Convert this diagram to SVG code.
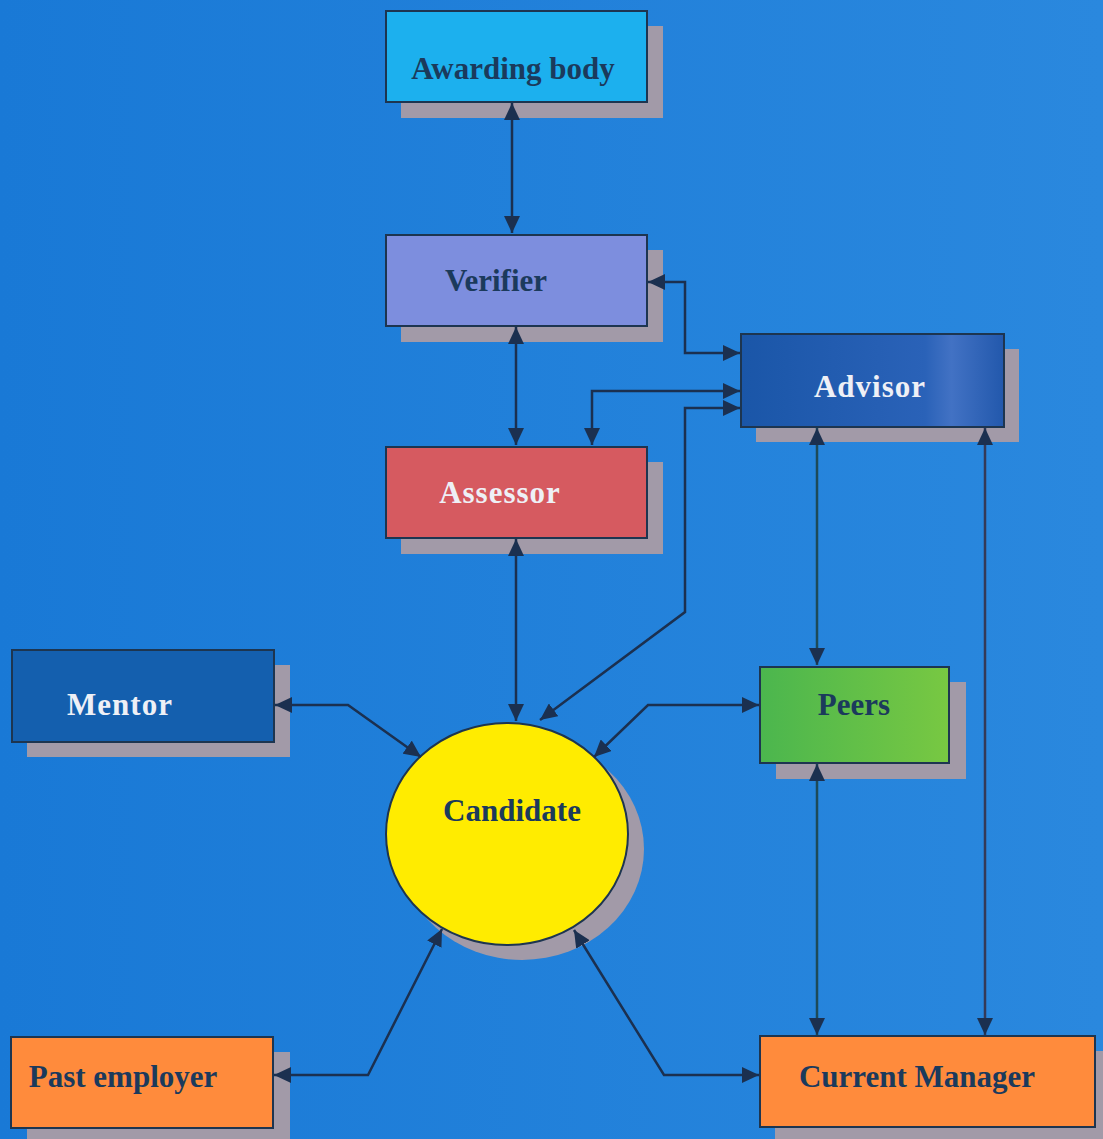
<svg xmlns="http://www.w3.org/2000/svg" width="1103" height="1139" viewBox="0 0 1103 1139">
<style>
.node{stroke:#1d3550;stroke-width:2}
.sh{fill:#a29aa8}
.lbl{font-family:"Liberation Serif","Times New Roman",serif;font-weight:bold;font-size:31px;text-anchor:middle}
.dk{fill:#1b3a5c}
.lt{fill:#eef0f6}
.con{fill:none;stroke:#1b3050;stroke-width:2.5;marker-start:url(#ah);marker-end:url(#ah)}
</style>
<defs>
<marker id="ah" markerUnits="userSpaceOnUse" markerWidth="18" markerHeight="16" refX="17" refY="8" orient="auto-start-reverse">
<path d="M0,0 L17,8 L0,16 z" fill="#1b3050"/>
</marker>
<linearGradient id="bg" x1="0" y1="0" x2="1" y2="0">
<stop offset="0" stop-color="#1979d6"/>
<stop offset="1" stop-color="#2a88de"/>
</linearGradient>
<linearGradient id="adv" x1="0" y1="0" x2="1" y2="0">
<stop offset="0" stop-color="#1a56a8"/>
<stop offset="0.7" stop-color="#2a62b8"/>
<stop offset="0.8" stop-color="#4272c4"/>
<stop offset="1" stop-color="#2258ac"/>
</linearGradient>
<linearGradient id="peer" x1="0" y1="0" x2="1" y2="0">
<stop offset="0" stop-color="#4bb64e"/>
<stop offset="1" stop-color="#78c842"/>
</linearGradient>
</defs>
<rect width="1103" height="1139" fill="url(#bg)"/>

<g id="awarding-body">
<rect class="sh" x="401" y="26" width="262" height="92"/>
<rect class="node" x="386" y="11" width="261" height="91" fill="#1cb0ee"/>
<text class="lbl dk" x="513" y="79">Awarding body</text>
</g>
<g id="verifier">
<rect class="sh" x="401" y="250" width="262" height="92"/>
<rect class="node" x="386" y="235" width="261" height="91" fill="#7d8ede"/>
<text class="lbl dk" x="496" y="291">Verifier</text>
</g>
<g id="advisor">
<rect class="sh" x="756" y="349" width="263" height="93"/>
<rect class="node" x="741" y="334" width="263" height="93" fill="url(#adv)"/>
<text class="lbl lt" x="870" y="397" letter-spacing="1">Advisor</text>
</g>
<g id="assessor">
<rect class="sh" x="401" y="462" width="262" height="92"/>
<rect class="node" x="386" y="447" width="261" height="91" fill="#d65a60"/>
<text class="lbl lt" x="500" y="503" letter-spacing="1">Assessor</text>
</g>
<g id="mentor">
<rect class="sh" x="27" y="665" width="263" height="92"/>
<rect class="node" x="12" y="650" width="262" height="92" fill="#145fae"/>
<text class="lbl lt" x="120" y="715" letter-spacing="1">Mentor</text>
</g>
<g id="peers">
<rect class="sh" x="776" y="682" width="190" height="97"/>
<rect class="node" x="760" y="667" width="189" height="96" fill="url(#peer)"/>
<text class="lbl dk" x="854" y="715">Peers</text>
</g>
<g id="candidate">
<ellipse class="sh" cx="522" cy="849" rx="122" ry="111"/>
<ellipse class="node" cx="507" cy="834" rx="121" ry="111" fill="#ffec00"/>
<text class="lbl dk" x="512" y="821">Candidate</text>
</g>
<g id="past-employer">
<rect class="sh" x="27" y="1052" width="263" height="92"/>
<rect class="node" x="11" y="1037" width="262" height="91" fill="#ff8b3c"/>
<text class="lbl dk" x="123" y="1087">Past employer</text>
</g>
<g id="current-manager">
<rect class="sh" x="775" y="1051" width="335" height="92"/>
<rect class="node" x="760" y="1036" width="335" height="91" fill="#ff8b3c"/>
<text class="lbl dk" x="917" y="1087">Current Manager</text>
</g>

<g id="connectors">
<path class="con" d="M512,103 L512,233"/>
<path class="con" d="M516,327 L516,445"/>
<path class="con" d="M648,282 L685,282 L685,353 L740,353"/>
<path class="con" d="M592,445 L592,391 L740,391"/>
<path class="con" d="M740,408 L685,408 L685,612 L540,720"/>
<path class="con" d="M516,539 L516,721"/>
<path class="con" d="M275,705 L348,705 L421,757"/>
<path class="con" d="M759,705 L648,705 L594,757"/>
<path class="con" d="M817,428 L817,665" style="stroke:#1d4a58"/>
<path class="con" d="M985,428 L985,1035" style="stroke:#343a58"/>
<path class="con" d="M817,764 L817,1035" style="stroke:#1d4a58"/>
<path class="con" d="M274,1075 L368,1075 L442,929"/>
<path class="con" d="M759,1075 L664,1075 L574,930"/>
</g>
</svg>
